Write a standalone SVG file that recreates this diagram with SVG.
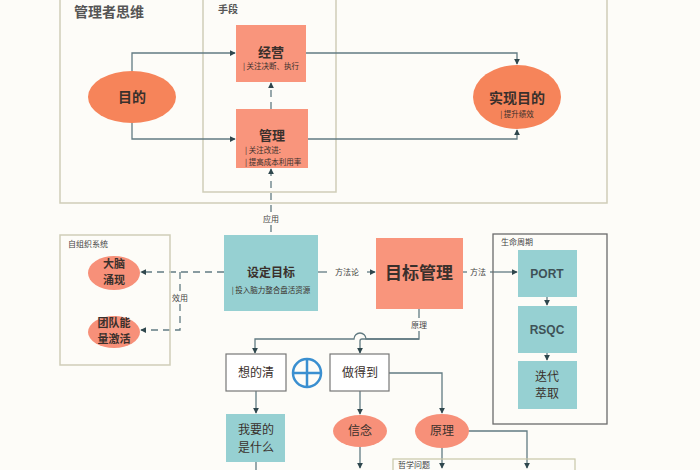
<svg xmlns="http://www.w3.org/2000/svg" width="700" height="470" viewBox="0 0 700 470">
<defs>
<marker id="ah" viewBox="0 0 8 8" refX="7" refY="4" markerWidth="6" markerHeight="6" orient="auto" markerUnits="userSpaceOnUse">
<path d="M0,0 L8,4 L0,8 z" fill="#2F474D"/>
</marker>
</defs>
<style>
text{font-family:"Noto Sans CJK SC","Noto Sans",sans-serif;fill:#3A302C;text-anchor:middle}
.frame{fill:none;stroke:#CFCDB8;stroke-width:1.5}
.salmon{fill:#F9957C}
.teal{fill:#96D0D2}
.big{fill:#F6845A}
.small{fill:#F79079}
.white{fill:#FFFFFF;stroke:#777;stroke-width:1.2}
.ln{fill:none;stroke:#627B82;stroke-width:1.3}
.dash{fill:none;stroke:#627B82;stroke-width:1.3;stroke-dasharray:7 5}
.t1{font-size:13px;font-weight:bold}
.t2{font-size:7.5px}
.t3{font-size:12px}
.t4{font-size:11px;font-weight:bold}
.lbl{font-size:8px;fill:#444}
.ttl{font-size:8px;text-anchor:start;fill:#444}
</style>
<rect width="700" height="470" fill="#FDFCF8"/>

<g id="frame-manager">
<rect class="frame" x="60" y="-5" width="547" height="208"/>
<text x="74" y="17" style="font-size:14px;font-weight:bold;text-anchor:start;fill:#555">管理者思维</text>
</g>
<g id="frame-means">
<rect class="frame" x="203" y="-5" width="133" height="197"/>
<text x="218" y="13" style="font-size:10px;font-weight:bold;text-anchor:start;fill:#555">手段</text>
</g>

<g id="connectors">
<path class="ln" d="M132,71 V53 H235" marker-end="url(#ah)"/>
<path class="ln" d="M132,122 V139 H235" marker-end="url(#ah)"/>
<path class="ln" d="M306,53 H517 V64" marker-end="url(#ah)"/>
<path class="ln" d="M308,139 H517 V130" marker-end="url(#ah)"/>
<path class="dash" d="M271,109 V83" marker-end="url(#ah)"/>
<path class="dash" d="M271,212 V169" marker-end="url(#ah)"/>
<path class="dash" d="M271,225 V235"/>
<path class="dash" d="M224,272 H141" marker-end="url(#ah)"/>
<path class="dash" d="M180,272 V291"/>
<path class="dash" d="M180,304 V330 H141" marker-end="url(#ah)"/>
<path class="ln" d="M318,272 H327"/>
<path class="ln" d="M367,272 H375" marker-end="url(#ah)"/>
<path class="ln" d="M463,272 H467"/>
<path class="ln" d="M490,272 H517" marker-end="url(#ah)"/>
<path class="ln" d="M547,297 V305" marker-end="url(#ah)"/>
<path class="ln" d="M547,353 V360" marker-end="url(#ah)"/>
<path class="ln" d="M419,309 V318"/>
<path class="ln" d="M419,331 V339 H366 A6,6 0 0 0 354,339 H255 V353" marker-end="url(#ah)"/>
<path class="ln" d="M419,339 H362 Q360,339 360,341 V353" marker-end="url(#ah)"/>
<path class="ln" d="M256,391 V413" marker-end="url(#ah)"/>
<path class="ln" d="M256,462 V470"/>
<path class="ln" d="M360,391 V414" marker-end="url(#ah)"/>
<path class="ln" d="M360,447 V468" marker-end="url(#ah)"/>
<path class="ln" d="M389,373 H442 V413" marker-end="url(#ah)"/>
<path class="ln" d="M442,448 V468" marker-end="url(#ah)"/>
<path class="ln" d="M468,431 H527 V468" marker-end="url(#ah)"/>
<text class="lbl" x="271" y="222">应用</text>
<text class="lbl" x="180" y="301">效用</text>
<text class="lbl" x="347" y="275">方法论</text>
<text class="lbl" x="478" y="275">方法</text>
<text class="lbl" x="419" y="328">原理</text>
</g>

<g id="node-mudi">
<ellipse class="big" cx="132" cy="97" rx="44" ry="26"/>
<text x="132" y="102" style="font-size:14px;font-weight:bold">目的</text>
</g>
<g id="node-jingying">
<rect class="salmon" x="236" y="25" width="70" height="57"/>
<text class="t1" x="271" y="57">经营</text>
<text class="t2" x="271" y="69">| 关注决断、执行</text>
</g>
<g id="node-guanli">
<rect class="salmon" x="236" y="109" width="72" height="59"/>
<text class="t1" x="272" y="140">管理</text>
<text class="t2" x="245" y="153" style="text-anchor:start">| 关注改进:</text>
<text class="t2" x="245" y="165" style="text-anchor:start">| 提高成本利用率</text>
</g>
<g id="node-shixian">
<ellipse class="big" cx="517" cy="97" rx="44" ry="32"/>
<text x="517" y="103" style="font-size:14px;font-weight:bold">实现目的</text>
<text class="t2" x="517" y="117">| 提升绩效</text>
</g>

<g id="frame-self">
<rect class="frame" x="60" y="235" width="110" height="130"/>
<text class="ttl" x="68" y="247">自组织系统</text>
</g>
<g id="node-danao">
<ellipse class="small" cx="114" cy="273" rx="26" ry="17"/>
<text class="t4" x="114" y="268">大脑</text>
<text class="t4" x="114" y="284">涌现</text>
</g>
<g id="node-tuandui">
<ellipse class="small" cx="114" cy="332" rx="26" ry="16"/>
<text class="t4" x="114" y="327">团队能</text>
<text class="t4" x="114" y="343">量激活</text>
</g>
<g id="node-sheding">
<rect class="teal" x="224" y="235" width="94" height="76"/>
<text x="271" y="277" style="font-size:12px;font-weight:bold">设定目标</text>
<text class="t2" x="271" y="293">| 投入脑力整合盘活资源</text>
</g>
<g id="node-mubiao">
<rect class="salmon" x="376" y="238" width="87" height="71"/>
<text x="419" y="279" style="font-size:17px;font-weight:bold">目标管理</text>
</g>
<g id="frame-life">
<rect x="493" y="234" width="114" height="190" fill="none" stroke="#6B6B6B" stroke-width="1.3"/>
<text class="ttl" x="501" y="245">生命周期</text>
</g>
<g id="node-port">
<rect class="teal" x="518" y="250" width="59" height="47"/>
<text x="547" y="278" style="font-size:12px;font-weight:bold;font-family:'Liberation Sans',sans-serif;fill:#3E5257">PORT</text>
</g>
<g id="node-rsqc">
<rect class="teal" x="518" y="306" width="59" height="47"/>
<text x="547" y="334" style="font-size:12px;font-weight:bold;font-family:'Liberation Sans',sans-serif;fill:#3E5257">RSQC</text>
</g>
<g id="node-diedai">
<rect class="teal" x="518" y="361" width="59" height="48"/>
<text class="t3" x="547" y="381">迭代</text>
<text class="t3" x="547" y="398">萃取</text>
</g>
<g id="node-xiang">
<rect class="white" x="226" y="354" width="60" height="37"/>
<text class="t3" x="256" y="377">想的清</text>
</g>
<g id="node-plus">
<circle cx="307" cy="373" r="14" fill="none" stroke="#3A8FD0" stroke-width="2.5"/>
<path d="M293,373 H321 M307,359 V387" stroke="#3A8FD0" stroke-width="2.5"/>
</g>
<g id="node-zuo">
<rect class="white" x="330" y="354" width="59" height="37"/>
<text class="t3" x="360" y="377">做得到</text>
</g>
<g id="node-woyao">
<rect class="teal" x="226" y="414" width="59" height="48"/>
<text class="t3" x="256" y="434">我要的</text>
<text class="t3" x="256" y="452">是什么</text>
</g>
<g id="node-xinnian">
<ellipse class="small" cx="360" cy="431" rx="27" ry="16"/>
<text class="t3" x="360" y="435">信念</text>
</g>
<g id="node-yuanli">
<ellipse class="small" cx="442" cy="431" rx="27" ry="17"/>
<text class="t3" x="442" y="435">原理</text>
</g>
<g id="frame-philo">
<rect x="393" y="459" width="182" height="20" fill="none" stroke="#C9C7A8" stroke-width="1.2"/>
<text class="ttl" x="398" y="468">哲学问题</text>
</g>
</svg>
